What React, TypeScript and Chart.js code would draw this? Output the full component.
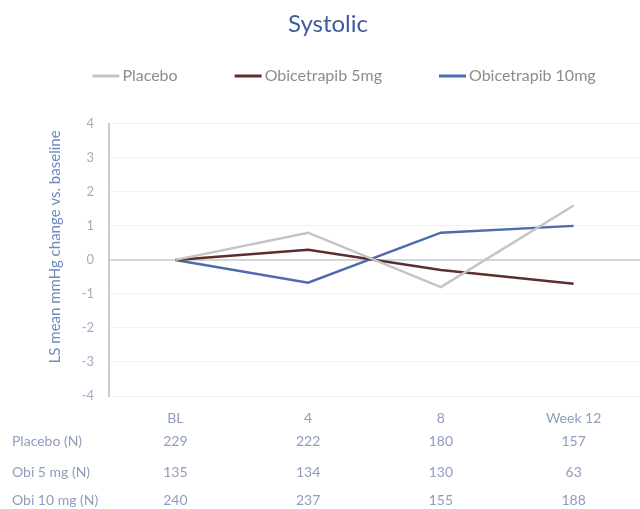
import React, { useEffect, useRef } from "react";
import { Chart, registerables } from "chart.js";

Chart.register(...registerables);

const categories = ["BL", "4", "8", "Week 12"];
const placebo = [0, 0.8, -0.8, 1.6];
const obi5 = [0, 0.3, -0.3, -0.7];
const obi10 = [0, -0.67, 0.8, 1.0];
const yTicks = [-4, -3, -2, -1, 0, 1, 2, 3, 4];
const yTitle = "LS mean mmHg change vs. baseline";

const tableRowLabels = ["Placebo (N)", "Obi 5 mg (N)", "Obi 10 mg (N)"];
const placeboN = [229, 222, 180, 157];
const obi5N = [135, 134, 130, 63];
const obi10N = [240, 237, 155, 188];
const tableRows = [placeboN, obi5N, obi10N];

const FONT = "Lato, 'Open Sans', sans-serif";
const TEXT = "#8f9cbc";

const tablePlugin = {
  id: "nTable",
  afterDraw(chart: any) {
    const ctx = chart.ctx;
    const xs = chart.scales.x;
    const base = chart.chartArea.bottom;
    const offsets = [45, 76, 104];
    ctx.save();
    ctx.font = `14px ${FONT}`;
    ctx.fillStyle = TEXT;
    ctx.textBaseline = "middle";
    tableRows.forEach((row, r) => {
      const y = base + offsets[r];
      ctx.textAlign = "left";
      ctx.fillText(tableRowLabels[r], 12, y);
      ctx.textAlign = "center";
      row.forEach((v, i) => {
        ctx.fillText(String(v), xs.getPixelForValue(i), y);
      });
    });
    // rotated y-axis title
    const ca = chart.chartArea;
    ctx.translate(55, (ca.top + ca.bottom) / 2 - 13);
    ctx.rotate(-Math.PI / 2);
    ctx.font = `15px ${FONT}`;
    ctx.fillStyle = "#6f88bd";
    ctx.textAlign = "center";
    ctx.fillText(yTitle, 0, 0);
    ctx.restore();
  },
};

const legendPlugin = {
  id: "lineLegend",
  afterDraw(chart: any) {
    const ctx = chart.ctx;
    const lineW = 27;
    const gap = 3;
    const itemGap = 57;
    const y = 76;
    const centerX = 344;
    ctx.save();
    ctx.font = `16px ${FONT}`;
    ctx.textBaseline = "middle";
    ctx.textAlign = "left";
    const items = chart.data.datasets.map((d: any) => ({
      label: d.label,
      color: d.borderColor,
      w: lineW + gap + ctx.measureText(d.label).width,
    }));
    const total = items.reduce((s: number, it: any) => s + it.w, 0) + itemGap * (items.length - 1);
    let x = centerX - total / 2;
    items.forEach((it: any) => {
      ctx.strokeStyle = it.color;
      ctx.lineWidth = 3;
      ctx.beginPath();
      ctx.moveTo(x, y);
      ctx.lineTo(x + lineW, y);
      ctx.stroke();
      ctx.fillStyle = "#8c8c8c";
      ctx.fillText(it.label, x + lineW + gap, y);
      x += it.w + itemGap;
    });
    ctx.restore();
  },
};

export default function App() {
  const ref = useRef<HTMLCanvasElement>(null);
  useEffect(() => {
    if (!ref.current) return;
    const chart = new Chart(ref.current, {
      type: "line",
      data: {
        labels: categories,
        datasets: [
          { label: "Placebo", data: placebo, borderColor: "#c4c4c4", backgroundColor: "#c4c4c4", borderWidth: 2.5, pointRadius: 0, tension: 0 },
          { label: "Obicetrapib 5mg", data: obi5, borderColor: "#5c2e2e", backgroundColor: "#5c2e2e", borderWidth: 2.5, pointRadius: 0, tension: 0 },
          { label: "Obicetrapib 10mg", data: obi10, borderColor: "#4d6cb0", backgroundColor: "#4d6cb0", borderWidth: 2.5, pointRadius: 0, tension: 0 },
        ],
      },
      options: {
        animation: false,
        responsive: false,
        layout: { padding: { left: 16, right: 0, top: 10, bottom: 83 } },
        plugins: {
          title: {
            display: true,
            text: "Systolic",
            color: "#3f5c9b",
            font: { family: FONT, size: 24, weight: "normal" },
            padding: { top: 0, bottom: 85 },
          },
          legend: { display: false },
          tooltip: { enabled: false },
        },
        scales: {
          x: {
            offset: true,
            afterFit(scale: any) {
              scale.height = 30;
            },
            grid: { display: false },
            border: { display: false },
            ticks: { color: TEXT, font: { family: FONT, size: 14 }, padding: 6 },
          },
          y: {
            min: -4,
            max: 4,
            afterBuildTicks(scale: any) {
              scale.ticks = yTicks.map((v) => ({ value: v }));
            },
            afterFit(scale: any) {
              scale.width = 93;
            },
            grid: {
              drawTicks: false,
              color: (c: any) => (c.tick && c.tick.value === 0 ? "#d2d6de" : "#f1f1f1"),
              lineWidth: (c: any) => (c.tick && c.tick.value === 0 ? 2 : 1),
            },
            border: { display: true, color: "#c9ccd4", width: 2 },
            ticks: { color: "#a3abc0", font: { family: FONT, size: 13 }, padding: 15 },
            title: { display: false },
          },
        },
      },
      plugins: [tablePlugin, legendPlugin],
    });
    return () => chart.destroy();
  }, []);
  return (
    <div style={{ position: "absolute", left: 0, top: 0, width: 640, height: 509, background: "#fff" }}>
      <canvas ref={ref} width={640} height={509} />
    </div>
  );
}
